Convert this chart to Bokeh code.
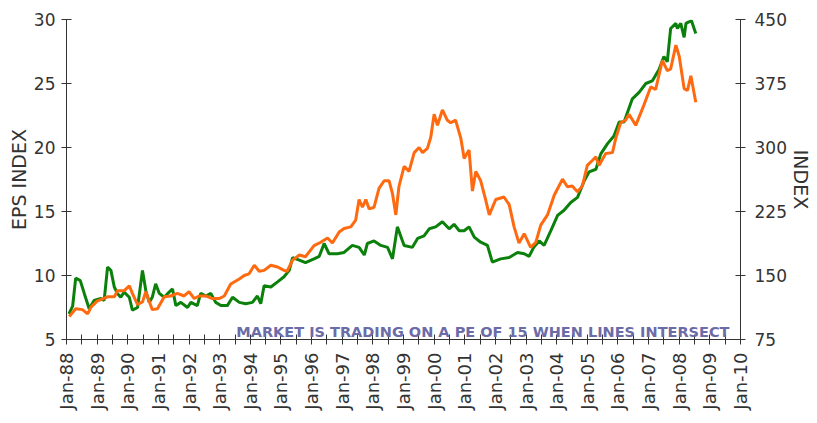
import math
from bokeh.plotting import figure
from bokeh.models import LinearAxis, Range1d, FixedTicker, Label
from bokeh.embed import file_html
from bokeh.resources import INLINE

# ---- data ----
eps_dates = [1988.08, 1988.2, 1988.3, 1988.45, 1988.58, 1988.74, 1988.9, 1989.12, 1989.23, 1989.34,
             1989.45, 1989.56, 1989.66, 1989.77, 1989.88, 1990.05, 1990.15, 1990.32, 1990.48, 1990.59,
             1990.7, 1990.8, 1990.91, 1991.03, 1991.19, 1991.35, 1991.46, 1991.57, 1991.73, 1991.95,
             1992.06, 1992.27, 1992.38, 1992.55, 1992.71, 1992.87, 1993.04, 1993.25, 1993.42, 1993.64,
             1993.85, 1994.07, 1994.23, 1994.34, 1994.45, 1994.67, 1994.89, 1995.1, 1995.27, 1995.38,
             1995.6, 1995.8, 1996.08, 1996.25, 1996.41, 1996.57, 1996.84, 1997.06, 1997.33, 1997.55,
             1997.72, 1997.82, 1998.04, 1998.26, 1998.48, 1998.64, 1998.8, 1999.02, 1999.29, 1999.46,
             1999.67, 1999.84, 2000.05, 2000.27, 2000.49, 2000.65, 2000.82, 2000.98, 2001.14, 2001.31,
             2001.52, 2001.74, 2001.9, 2002.17, 2002.45, 2002.72, 2002.94, 2003.1, 2003.25, 2003.43,
             2003.59, 2003.81, 2004.03, 2004.24, 2004.46, 2004.68, 2004.9, 2005.06, 2005.28, 2005.44,
             2005.66, 2005.87, 2006.04, 2006.2, 2006.47, 2006.69, 2006.91, 2007.12, 2007.34, 2007.5,
             2007.61, 2007.72, 2007.89, 2007.94, 2008.05, 2008.16, 2008.22, 2008.3, 2008.4, 2008.54]
eps_values = [7.0, 7.6, 9.8, 9.6, 8.6, 7.4, 8.05, 8.2, 8.05, 10.65,
              10.4, 9.1, 8.6, 8.3, 8.7, 8.3, 7.3, 7.5, 10.4, 8.8,
              7.9, 8.3, 9.35, 8.6, 8.3, 8.7, 8.95, 7.65, 7.9, 7.5,
              7.9, 7.65, 8.6, 8.4, 8.6, 7.9, 7.65, 7.65, 8.3, 7.9,
              7.8, 7.9, 8.4, 7.8, 9.2, 9.1, 9.5, 9.9, 10.4, 11.4,
              11.2, 11.0, 11.3, 11.5, 12.5, 11.7, 11.7, 11.8, 12.35, 12.2,
              11.6, 12.5, 12.7, 12.35, 12.2, 11.3, 13.8, 12.35, 12.2, 12.9,
              13.1, 13.65, 13.8, 14.2, 13.65, 14.0, 13.5, 13.5, 13.8, 13.0,
              12.6, 12.35, 11.05, 11.3, 11.4, 11.8, 11.7, 11.5, 12.2, 12.7,
              12.35, 13.5, 14.7, 15.1, 15.7, 16.1, 17.4, 18.1, 18.3, 19.5,
              20.3, 20.9, 22.0, 22.0, 23.8, 24.3, 25.0, 25.2, 26.1, 27.1,
              26.7, 29.3, 29.7, 29.3, 29.7, 28.6, 29.7, 29.8, 29.9, 28.9]

index_dates = [1988.09, 1988.3, 1988.52, 1988.69, 1988.8, 1989.0, 1989.34, 1989.56, 1989.66, 1989.88,
               1990.05, 1990.15, 1990.32, 1990.48, 1990.59, 1990.8, 1990.97, 1991.19, 1991.4, 1991.62,
               1991.84, 1992.0, 1992.17, 1992.33, 1992.55, 1992.76, 1992.98, 1993.15, 1993.36, 1993.64,
               1993.8, 1993.96, 1994.13, 1994.29, 1994.45, 1994.67, 1994.89, 1995.1, 1995.2, 1995.38,
               1995.6, 1995.8, 1996.08, 1996.3, 1996.52, 1996.68, 1996.9, 1997.06, 1997.28, 1997.44,
               1997.55, 1997.66, 1997.77, 1997.88, 1998.04, 1998.2, 1998.37, 1998.53, 1998.64, 1998.75,
               1998.85, 1999.02, 1999.18, 1999.35, 1999.51, 1999.62, 1999.78, 1999.89, 2000.0, 2000.11,
               2000.27, 2000.43, 2000.54, 2000.7, 2000.87, 2000.98, 2001.14, 2001.25, 2001.36, 2001.52,
               2001.68, 2001.8, 2002.01, 2002.28, 2002.45, 2002.61, 2002.77, 2002.94, 2003.15, 2003.32,
               2003.48, 2003.7, 2003.92, 2004.19, 2004.35, 2004.51, 2004.68, 2004.84, 2005.0, 2005.17,
               2005.28, 2005.38, 2005.6, 2005.82, 2005.93, 2006.09, 2006.25, 2006.36, 2006.58, 2006.85,
               2007.07, 2007.23, 2007.45, 2007.61, 2007.72, 2007.89, 2008.0, 2008.16, 2008.27, 2008.38,
               2008.54]
index_values = [102, 111, 110, 105, 113, 120, 125, 125, 132, 132,
                138, 129, 116, 119, 131, 110, 111, 125, 126, 129,
                126, 131, 123, 126, 126, 123, 123, 126, 140, 146,
                150, 152, 162, 155, 156, 162, 160, 156, 155, 168,
                174, 172, 185, 189, 194, 188, 201, 205, 207, 215,
                239, 230, 239, 228, 230, 252, 261, 261, 246, 221,
                254, 278, 272, 294, 300, 294, 299, 312, 339, 326,
                344, 332, 329, 332, 311, 287, 297, 249, 272, 261,
                239, 221, 239, 242, 233, 207, 188, 199, 183, 189,
                209, 221, 244, 263, 254, 255, 248, 255, 279, 285,
                289, 279, 293, 294, 311, 329, 332, 339, 326, 350,
                371, 368, 402, 390, 392, 420, 407, 369, 367, 384,
                353]

tick_years = list(range(1988, 2011))
tick_labels = ["Jan-%02d" % (y % 100) for y in tick_years]
eps_ticks = [5, 10, 15, 20, 25, 30]
index_ticks = [75, 150, 225, 300, 375, 450]

annotation = "MARKET IS TRADING ON A PE OF 15 WHEN LINES INTERSECT"

GREEN = "#0b800b"
ORANGE = "#ff6a10"
AXIS = "#333333"
FONT = "DejaVu Sans"

p = figure(frame_width=674, frame_height=320, output_backend="svg", toolbar_location=None,
           x_range=Range1d(1988, 2010), y_range=Range1d(5, 30),
           min_border_left=66, min_border_top=19, min_border_right=0, min_border_bottom=0)
p.extra_y_ranges = {"index": Range1d(75, 450)}
p.outline_line_color = None
p.xgrid.visible = False
p.ygrid.visible = False
p.xaxis.visible = False
p.yaxis.visible = False

p.line(eps_dates, eps_values, line_color=GREEN, line_width=3)
p.line(index_dates, index_values, line_color=ORANGE, line_width=3, y_range_name="index")


def style(ax):
    ax.axis_line_color = AXIS
    ax.major_tick_line_color = AXIS
    ax.minor_tick_line_color = AXIS
    ax.major_tick_in = 5
    ax.major_tick_out = 5
    ax.minor_tick_in = 5
    ax.minor_tick_out = 5
    ax.major_label_text_font = FONT
    ax.major_label_text_color = AXIS
    ax.major_label_text_font_size = "17px"
    ax.axis_label_text_font = FONT
    ax.axis_label_text_font_style = "normal"
    ax.axis_label_text_color = AXIS
    ax.axis_label_text_font_size = "19px"


xaxis = LinearAxis(ticker=FixedTicker(ticks=tick_years, minor_ticks=[y + 0.5 for y in tick_years[:-1]]))
xaxis.major_label_overrides = dict(zip(tick_years, tick_labels))
style(xaxis)
xaxis.major_label_text_font_size = "18px"
xaxis.major_label_orientation = math.pi / 2
xaxis.major_label_standoff = 8
p.add_layout(xaxis, "below")

laxis = LinearAxis(ticker=FixedTicker(ticks=eps_ticks, minor_ticks=[]), axis_label="EPS INDEX")
style(laxis)
laxis.major_label_standoff = 6
laxis.axis_label_standoff = 1
p.add_layout(laxis, "left")

raxis = LinearAxis(y_range_name="index", ticker=FixedTicker(ticks=index_ticks, minor_ticks=[]),
                   axis_label="INDEX")
style(raxis)
raxis.major_label_standoff = 9
raxis.axis_label_standoff = 0
p.add_layout(raxis, "right")

p.add_layout(Label(x=2009.64, y=5.55, text=annotation, text_align="right", text_baseline="alphabetic",
                   text_font=FONT, text_font_style="bold", text_font_size="14.5px",
                   text_color="#6b6ba8"))

open("out.html", "w").write(file_html(p, INLINE))
